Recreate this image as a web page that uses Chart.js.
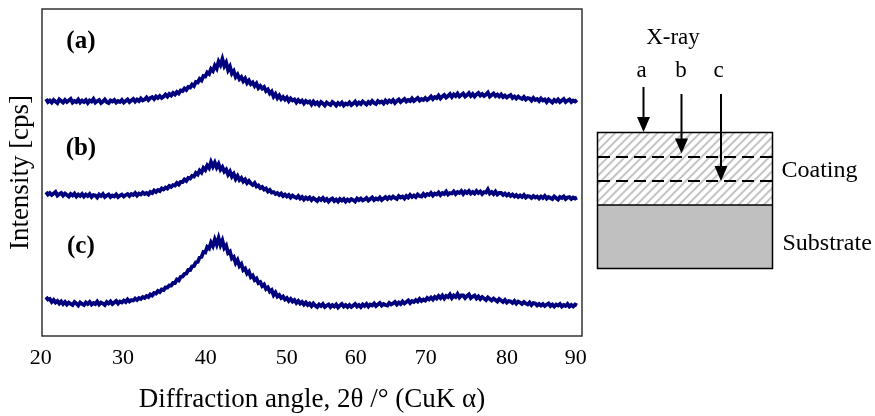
<!DOCTYPE html>
<html><head><meta charset="utf-8">
<script src="https://cdn.jsdelivr.net/npm/chart.js@4.4.1/dist/chart.umd.min.js"></script>
<style>
html,body{margin:0;padding:0;background:#fff;width:875px;height:416px;overflow:hidden;}
#wrap{position:absolute;left:0;top:0;width:600px;height:416px;}
#diagram{position:absolute;left:0;top:0;width:875px;height:416px;pointer-events:none;}
svg text{font-family:'Liberation Serif','Times New Roman',serif;fill:#000;}
</style></head><body>
<div id="wrap"><canvas id="c"></canvas></div>
<svg id="diagram" width="875" height="416" xmlns="http://www.w3.org/2000/svg">
<defs>
<pattern id="hatch" patternUnits="userSpaceOnUse" width="6" height="6" patternTransform="rotate(45)">
<rect width="6" height="6" fill="#fff"/>
<line x1="1" y1="0" x2="1" y2="6" stroke="#b4b4b4" stroke-width="1.6"/>
</pattern>
</defs>
<rect x="597.5" y="132.5" width="175" height="72.5" fill="url(#hatch)"/>
<rect x="597.5" y="205" width="175" height="63.5" fill="#c0c0c0"/>
<rect x="597.5" y="132.5" width="175" height="136" fill="none" stroke="#000" stroke-width="1.5"/>
<line x1="597.5" y1="205" x2="772.5" y2="205" stroke="#000" stroke-width="1.5"/>
<line x1="598" y1="157" x2="772" y2="157" stroke="#000" stroke-width="2" stroke-dasharray="12 6"/>
<line x1="598" y1="181" x2="772" y2="181" stroke="#000" stroke-width="2" stroke-dasharray="12 6"/>
<line x1="643.5" y1="87" x2="643.5" y2="120" stroke="#000" stroke-width="2"/>
<polygon points="637,117 650,117 643.5,132" fill="#000"/>
<line x1="681.5" y1="94" x2="681.5" y2="141" stroke="#000" stroke-width="2"/>
<polygon points="675,138.5 688,138.5 681.5,153.5" fill="#000"/>
<line x1="721" y1="94" x2="721" y2="168" stroke="#000" stroke-width="2"/>
<polygon points="714.5,166 727.5,166 721,181" fill="#000"/>
<text x="673" y="44" font-size="23" text-anchor="middle">X-ray</text>
<text x="641.7" y="77" font-size="23" text-anchor="middle">a</text>
<text x="681" y="77" font-size="23" text-anchor="middle">b</text>
<text x="718.5" y="77" font-size="23" text-anchor="middle">c</text>
<text x="781.5" y="177" font-size="24">Coating</text>
<text x="782.5" y="250" font-size="24">Substrate</text>
</svg>
<script>
// Scan angles, 2θ (degrees), 0.25° steps
const angles = [
20,20.25,20.5,20.75,21,21.25,21.5,21.75,22,22.25,22.5,22.75,23,23.25,23.5,23.75,24,24.25,24.5,24.75,
25,25.25,25.5,25.75,26,26.25,26.5,26.75,27,27.25,27.5,27.75,28,28.25,28.5,28.75,29,29.25,29.5,29.75,
30,30.25,30.5,30.75,31,31.25,31.5,31.75,32,32.25,32.5,32.75,33,33.25,33.5,33.75,34,34.25,34.5,34.75,
35,35.25,35.5,35.75,36,36.25,36.5,36.75,37,37.25,37.5,37.75,38,38.25,38.5,38.75,39,39.25,39.5,39.75,
40,40.25,40.5,40.75,41,41.25,41.5,41.75,42,42.25,42.5,42.75,43,43.25,43.5,43.75,44,44.25,44.5,44.75,
45,45.25,45.5,45.75,46,46.25,46.5,46.75,47,47.25,47.5,47.75,48,48.25,48.5,48.75,49,49.25,49.5,49.75,
50,50.25,50.5,50.75,51,51.25,51.5,51.75,52,52.25,52.5,52.75,53,53.25,53.5,53.75,54,54.25,54.5,54.75,
55,55.25,55.5,55.75,56,56.25,56.5,56.75,57,57.25,57.5,57.75,58,58.25,58.5,58.75,59,59.25,59.5,59.75,
60,60.25,60.5,60.75,61,61.25,61.5,61.75,62,62.25,62.5,62.75,63,63.25,63.5,63.75,64,64.25,64.5,64.75,
65,65.25,65.5,65.75,66,66.25,66.5,66.75,67,67.25,67.5,67.75,68,68.25,68.5,68.75,69,69.25,69.5,69.75,
70,70.25,70.5,70.75,71,71.25,71.5,71.75,72,72.25,72.5,72.75,73,73.25,73.5,73.75,74,74.25,74.5,74.75,
75,75.25,75.5,75.75,76,76.25,76.5,76.75,77,77.25,77.5,77.75,78,78.25,78.5,78.75,79,79.25,79.5,79.75,
80,80.25,80.5,80.75,81,81.25,81.5,81.75,82,82.25,82.5,82.75,83,83.25,83.5,83.75,84,84.25,84.5,84.75,
85,85.25,85.5,85.75,86,86.25,86.5,86.75,87,87.25,87.5,87.75,88,88.25,88.5,88.75,89,89.25,89.5,89.75,
90];
// Intensities (arbitrary units; the three patterns are offset vertically as in the figure)
const seriesA = [
237,234,235.5,233.5,236,234.5,233,236.5,235,233.5,236,234,235.5,237,233.5,235,234,236.5,233.5,235.5,
234,236,233,235.5,234.5,237,233.5,235,236,233,234.5,236.5,234,233,235.5,234.5,236,233.5,235,234,
236,233.5,235,236.5,234,235.5,237,234.5,236.5,235,237.5,235.5,236.5,238.5,236,238,239,237,239.5,238,
240,238,239.5,241.5,239.5,242,240.5,243,241.5,244,242.5,245.5,245,247.5,246,249,248.5,251.5,250,254,
253.5,257,255.5,260,259.5,263.5,262,267,265,270.5,267.5,274.5,271,277,270,273.5,266,269.5,262.5,265,
259,261.5,257,259,255,257.5,253,255.5,252,253.5,250,252.5,248,250,247.5,249,245,246.5,242.5,244.5,
239.5,242,238,240.5,237,239,236.5,238.5,235,237.5,235.5,236.5,233.5,236,234,235.5,232.5,235,233.5,234.5,
231.5,234.5,232,233.5,231,234,232.5,230.5,233.5,232,231,234,232.5,230.5,233,231.5,233.5,230.5,232.5,231.5,
233.5,231,232.5,234.5,231.5,233.5,232,234.5,233,231.5,234,232.5,235,233,232,235,233.5,234.5,232.5,235.5,
233.5,235.5,234,236,233,235,236.5,234,235.5,237,234.5,236,235,237.5,235,236.5,238,235.5,237,236,
238,236,237.5,239.5,237,239,238,240.5,237.5,239.5,241,238.5,240,242,239,241.5,240,242.5,239.5,241,
242.5,239.5,241,243,240,242,239.5,241.5,243,240.5,242,240,241.5,243.5,239.5,241,242.5,240,241.5,239.5,
241.5,239,240.5,238.5,240,241,238,239.5,237.5,239.5,238,237,239,236.5,238,237.5,235.5,238,236,237,
235,237.5,235.5,236.5,234,236.5,235,233.5,236,234.5,236.5,234,235.5,237,234,235.5,236.5,234,235.5,234.5,
236];
const seriesB = [
144,141.5,143,141,142.5,144,140.5,142,143,140.5,142.5,141,139.5,142,140.5,142.5,139.5,141.5,140,142,
139.5,141.5,140,142,139,141,140.5,138.5,141.5,140,142,139,140.5,141.5,139,140.5,139.5,141.5,139,140.5,
141.5,139.5,141,142,140,142,141,143,140.5,142.5,141.5,143.5,142,143,141.5,144,143,145.5,144,146,
145,147.5,146.5,148.5,147.5,150,149,151,150.5,153,151.5,154,154,156.5,155,158,157.5,160,159.5,163,
161.5,165.5,163.5,168,166,170.5,168,174,169.5,173.5,168.5,172,166.5,169,164.5,166.5,161.5,164.5,159.5,162,
157,160,156,158,154.5,156.5,153,155,152.5,151,153,149.5,150.5,148,149,146.5,147.5,144.5,146,143.5,
144,142,143,141,142.5,140,141.5,139.5,141,138.5,140.5,139,138,140,137.5,139,136.5,138.5,137,138.5,
136,138,136.5,135,137.5,136,138,135.5,137,134.5,136.5,137.5,135,136.5,134.5,137,135.5,137,134.5,136.5,
135,137,136,134.5,137.5,136,137.5,135.5,136.5,138,135.5,137,138.5,136,137.5,136.5,138.5,136,137.5,139,
137,139,137.5,139.5,138,137,140,138.5,139.5,137.5,140,138.5,141,139,140.5,139,141.5,140,139.5,142,
140,142,141,143,140.5,142.5,141.5,143.5,141,143,142,144.5,141.5,143,142.5,144.5,142,144,143,145,
142,144.5,143,145,142.5,144,142.5,145,143,144.5,142,144,143.5,146.5,142.5,144,142,144.5,141.5,143,
143,141,142.5,140.5,142,140,141.5,139.5,141,139,140.5,139,141,138.5,140,139.5,138,140,138.5,139.5,
137.5,139.5,138,140,137.5,139,138,137,139.5,138,136.5,139,138,139.5,137,138.5,139,137,138.5,137.5,
138.5];
const seriesC = [
39,36.5,37,34,36,33.5,35,32.5,34.5,32,34,31.5,33.5,32,31,34,32.5,30.5,33.5,32,
31,33.5,32,34,31.5,33,32,34.5,31.5,33.5,32.5,31,34,32.5,34.5,32,33.5,35,32.5,34.5,
33.5,35.5,34,36.5,34.5,36,35.5,37.5,36,38,37,39,38,40,39,41.5,40.5,43,42.5,45,
44,46.5,46,48.5,48.5,50.5,50.5,53,53,56.5,55.5,59,59.5,62,62.5,66,66,69.5,70,73.5,
74,78.5,79,84,83.5,89,87.5,93.5,90,96.5,91.5,98,91,95.5,88,90.5,83,84.5,77.5,79,
73,76,70,72,66,67.5,62.5,64.5,59,60.5,56,57.5,53,54,50,51.5,47,48.5,44.5,46,
41,43.5,39.5,41,38,39.5,36.5,38,35,37,34.5,36,33,35,32.5,34,31.5,33.5,31,32.5,
30,32.5,30.5,29,31.5,30,32,29,30.5,31.5,29,31,29.5,31.5,28.5,30.5,32,29.5,31,29,
31,29,30.5,32,29.5,31,29,31.5,30,32,29.5,31.5,30.5,32.5,30,31.5,33,30.5,32,31,
30.5,33,31.5,32.5,34,31.5,33.5,32,34.5,32.5,34,35.5,33,35,34,36,34.5,37,35,36.5,
35.5,38,36.5,38.5,36.5,39,37.5,40,38,40.5,37.5,40,39,41.5,38,40.5,39,42,38.5,40.5,
40.5,38,40,41.5,38,39.5,40.5,37.5,39.5,37,39,37.5,36,38.5,37,35.5,37.5,36,34.5,37,
35.5,34,36,33.5,35,34.5,33,35,32.5,34.5,33.5,32,34,32.5,31.5,33.5,31,33,32.5,30.5,
32,30.5,32,30,31.5,32.5,30,31.5,29.5,31.5,30.5,32,29.5,31,30,32,29.5,31,29.5,31.5,
30.5];
const seriesNames = ['(a)','(b)','(c)'];
const tickLabels = ['20','30','40','50','60','70','80','90'];
const tickLabelAt = [19.30,30.15,41.07,51.73,60.83,70.05,80.77,89.83];
const xMin = 19.47, xMax = 90.66, yMin = 0, yMax = 327;
const panelLabelY = [294,187,89];
const panelLabelX = 24.6;

const serif = "'Liberation Serif','Times New Roman',serif";
const lineColor = '#00007f';

function pts(vals){ return angles.map((a,i)=>({x:a,y:vals[i]})); }

const framePlugin = {
  id:'frame',
  afterDatasetsDraw(chart){
    const {ctx, chartArea:a} = chart;
    ctx.save();
    ctx.strokeStyle='#333';
    ctx.lineWidth=1.5;
    ctx.strokeRect(a.left, a.top, a.right-a.left, a.bottom-a.top);
    ctx.restore();
  }
};
const panelPlugin = {
  id:'panelText',
  afterDatasetsDraw(chart){
    const {ctx, scales:{x,y}} = chart;
    ctx.save();
    ctx.font = "bold 25px " + serif;
    ctx.fillStyle='#000';
    ctx.textAlign='center';
    ctx.textBaseline='middle';
    seriesNames.forEach((t,i)=>ctx.fillText(t, x.getPixelForValue(panelLabelX), y.getPixelForValue(panelLabelY[i])));
    ctx.restore();
  }
};

const ds = (label, vals) => ({label, data: pts(vals), borderColor: lineColor, backgroundColor: lineColor,
  borderWidth: 3.8, pointRadius: 0, tension: 0, fill: false});

new Chart(document.getElementById('c'), {
  type:'line',
  data:{ datasets:[ ds(seriesNames[0], seriesA), ds(seriesNames[1], seriesB), ds(seriesNames[2], seriesC) ] },
  options:{
    responsive:true, maintainAspectRatio:false, animation:false,
    layout:{padding:{left:0,right:18,top:9,bottom:0}},
    plugins:{legend:{display:false}, tooltip:{enabled:false}},
    scales:{
      x:{type:'linear', min:xMin, max:xMax,
        grid:{display:false, drawTicks:false}, border:{display:false},
        afterBuildTicks:s=>{ s.ticks = tickLabelAt.map(v=>({value:v})); },
        afterFit:s=>{ s.height = 80; },
        ticks:{autoSkip:false, maxRotation:0, minRotation:0, padding:9, color:'#000',
          font:{family:serif, size:22}, callback:(v,i)=>tickLabels[i]},
        title:{display:true, text:'Diffraction angle, 2θ /° (CuK α)', color:'#000',
          font:{family:serif, size:27}, padding:{top:0,bottom:0}}
      },
      y:{min:yMin, max:yMax,
        grid:{display:false, drawTicks:false}, border:{display:false},
        ticks:{display:false},
        afterFit:s=>{ s.width = 42; },
        title:{display:true, text:'Intensity [cps]', color:'#000',
          font:{family:serif, size:27}, padding:{top:5,bottom:0}}
      }
    }
  },
  plugins:[framePlugin, panelPlugin]
});
</script>
</body></html>
